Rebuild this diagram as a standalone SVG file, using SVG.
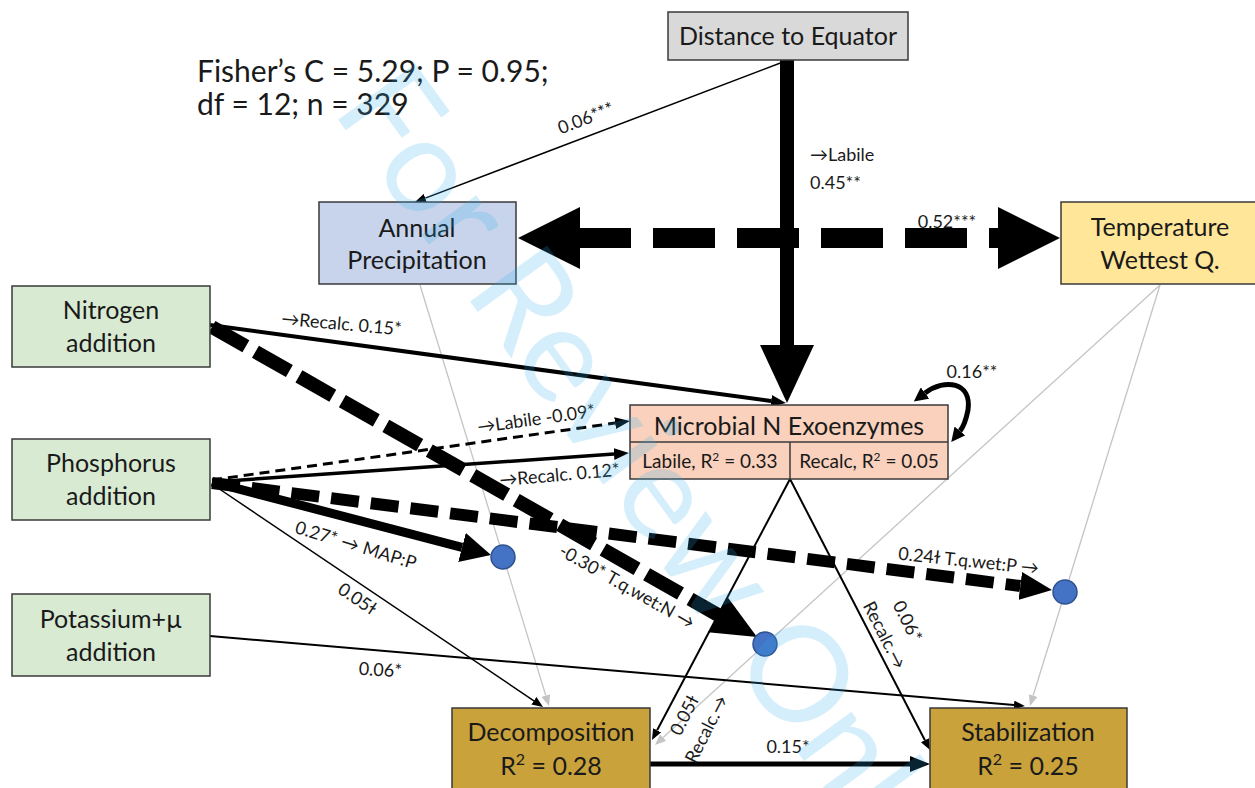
<svg xmlns="http://www.w3.org/2000/svg" width="1255" height="788" viewBox="0 0 1255 788">
<defs>
<style>
text{font-family:Lato,"Liberation Sans",sans-serif;fill:#1a1a1a}
.box{stroke:#3a3a3a;stroke-width:1.5}
.bt{font-size:25px;text-anchor:middle}
.lb{font-size:18px;text-anchor:middle}
.ln{fill:none;stroke:#000}
.gr{fill:none;stroke:#c4c4c4;stroke-width:1.3}
.dot{fill:#4472c4;stroke:#2f528f;stroke-width:1.5}
</style>
<marker id="hThin" markerUnits="userSpaceOnUse" markerWidth="11" markerHeight="9" refX="0" refY="4.5" orient="auto"><path d="M0,0 L11,4.5 L0,9 z" fill="#000"/></marker>
<marker id="hGrey" markerUnits="userSpaceOnUse" markerWidth="11" markerHeight="9" refX="0" refY="4.5" orient="auto"><path d="M0,0 L11,4.5 L0,9 z" fill="#c4c4c4"/></marker>
<marker id="hMed" markerUnits="userSpaceOnUse" markerWidth="15" markerHeight="12" refX="0" refY="6" orient="auto"><path d="M0,0 L15,6 L0,12 z" fill="#000"/></marker>
<marker id="hDS" markerUnits="userSpaceOnUse" markerWidth="20" markerHeight="16" refX="0" refY="8" orient="auto"><path d="M0,0 L20,8 L0,16 z" fill="#000"/></marker>
<marker id="hLoop" markerUnits="userSpaceOnUse" markerWidth="14" markerHeight="14" refX="0" refY="7" orient="auto-start-reverse"><path d="M0,0 L14,7 L0,14 z" fill="#000"/></marker>
<marker id="hBig" markerUnits="userSpaceOnUse" markerWidth="58" markerHeight="54" refX="0" refY="27" orient="auto"><path d="M0,0 L58,27 L0,54 z" fill="#000"/></marker>
<marker id="hHuge" markerUnits="userSpaceOnUse" markerWidth="62" markerHeight="62" refX="0" refY="31" orient="auto-start-reverse"><path d="M0,0 L62,31 L0,62 z" fill="#000"/></marker>
<marker id="hN" markerUnits="userSpaceOnUse" markerWidth="45" markerHeight="40" refX="0" refY="20" orient="auto"><path d="M0,0 L45,20 L0,40 z" fill="#000"/></marker>
<marker id="hP1" markerUnits="userSpaceOnUse" markerWidth="30" markerHeight="30" refX="0" refY="15" orient="auto"><path d="M0,0 L30,15 L0,30 z" fill="#000"/></marker>
<marker id="hP2" markerUnits="userSpaceOnUse" markerWidth="32" markerHeight="28" refX="0" refY="14" orient="auto"><path d="M0,0 L32,14 L0,28 z" fill="#000"/></marker>
</defs>
<rect width="1255" height="788" fill="#fff"/>

<text x="197" y="82" font-size="30">Fisher’s C = 5.29; P = 0.95;</text>
<text x="197" y="115" font-size="30">df = 12; n = 329</text>

<g id="connectors">
  <!-- grey paths -->
  <line class="gr" x1="420" y1="285" x2="545.8" y2="695.5" marker-end="url(#hGrey)"/>
  <line class="gr" x1="1160" y1="285" x2="1033.2" y2="695.5" marker-end="url(#hGrey)"/>
  <line class="gr" x1="1160" y1="285" x2="663.1" y2="737.6" marker-end="url(#hGrey)"/>
  <!-- black paths -->
  <line class="ln" stroke-width="1.5" x1="783" y1="62" x2="425.3" y2="198.1" marker-end="url(#hThin)"/>
  <line class="ln" stroke-width="14" x1="787" y1="60" x2="787" y2="345" marker-end="url(#hBig)"/>
  <line class="ln" stroke-width="20" stroke-dasharray="62 22" stroke-dashoffset="11" x1="580" y1="238" x2="998" y2="238" marker-start="url(#hHuge)" marker-end="url(#hHuge)"/>
  <line class="ln" stroke-width="4" x1="210" y1="325" x2="771.1" y2="401" marker-end="url(#hMed)"/>
  <line class="ln" stroke-width="14" stroke-dasharray="39 11" x1="212" y1="327" x2="717.9" y2="614.8" marker-end="url(#hN)"/>
  <line class="ln" stroke-width="3" stroke-dasharray="10 6" x1="212" y1="480" x2="615.1" y2="423.1" marker-end="url(#hMed)"/>
  <line class="ln" stroke-width="3.5" x1="212" y1="482" x2="614" y2="454" marker-end="url(#hMed)"/>
  <line class="ln" stroke-width="9" x1="212" y1="482" x2="462" y2="547.4" marker-end="url(#hP1)"/>
  <line class="ln" stroke-width="12" stroke-dasharray="28 12" x1="212" y1="483" x2="1020.3" y2="586" marker-end="url(#hP2)"/>
  <line class="ln" stroke-width="1.5" x1="212" y1="484" x2="533.9" y2="700.8" marker-end="url(#hThin)"/>
  <line class="ln" stroke-width="2" x1="210" y1="636" x2="1014" y2="705.1" marker-end="url(#hThin)"/>
  <line class="ln" stroke-width="2" x1="790" y1="479" x2="657.1" y2="730.3" marker-end="url(#hThin)"/>
  <line class="ln" stroke-width="2" x1="790" y1="479" x2="924.9" y2="740.2" marker-end="url(#hThin)"/>
  <line class="ln" stroke-width="5" x1="650" y1="764" x2="910" y2="764" marker-end="url(#hDS)"/>
  <path class="ln" stroke-width="5" d="M925,393 C945,378 972,382 968,410 C966,420 964,426 960,431" marker-start="url(#hLoop)" marker-end="url(#hLoop)"/>
  <!-- interaction points -->
  <circle class="dot" cx="503" cy="557" r="12"/>
  <circle class="dot" cx="765" cy="644" r="12"/>
  <circle class="dot" cx="1065" cy="592" r="12"/>
  <!-- labels -->
  <text class="lb" transform="translate(588,124) rotate(-21)">0.06***</text>
  <text x="810" y="161" font-size="18">→Labile</text>
  <text x="810" y="189" font-size="18">0.45**</text>
  <text class="lb" x="947" y="228" font-size="19">0.52***</text>
  <text class="lb" transform="translate(341,330) rotate(5)">→Recalc. 0.15*</text>
  <text class="lb" transform="translate(537,425) rotate(-8)">→Labile -0.09*</text>
  <text class="lb" transform="translate(560,481) rotate(-5)">→Recalc. 0.12*</text>
  <text class="lb" transform="translate(624,592) rotate(29.5)">-0.30* T.q.wet:N →</text>
  <text class="lb" transform="translate(354,551) rotate(17)">0.27* → MAP:P</text>
  <text class="lb" transform="translate(354,604) rotate(34)">0.05ɫ</text>
  <text class="lb" transform="translate(380,676) rotate(3)">0.06*</text>
  <text class="lb" transform="translate(968,567) rotate(6)">0.24ɫ T.q.wet:P →</text>
  <text class="lb" x="788" y="753">0.15*</text>
  <text class="lb" transform="translate(690,718) rotate(-63)">0.05ɫ</text>
  <text class="lb" transform="translate(712,732) rotate(-63)">Recalc.→</text>
  <text class="lb" transform="translate(902,624) rotate(63)">0.06*</text>
  <text class="lb" transform="translate(879,638) rotate(63)">Recalc.→</text>
  <text class="lb" x="972" y="378" font-size="21">0.16**</text>
</g>

<g id="dist">
  <rect class="box" x="668" y="12" width="240" height="48" fill="#d9d9d9"/>
  <text class="bt" x="788" y="45">Distance to Equator</text>
</g>
<g id="annual">
  <rect class="box" x="319" y="202" width="197" height="82" fill="#c7d4ec"/>
  <text class="bt" x="417" y="237">Annual</text>
  <text class="bt" x="417" y="269">Precipitation</text>
</g>
<g id="temp">
  <rect class="box" x="1061" y="202" width="198" height="82" fill="#ffe699"/>
  <text class="bt" x="1160" y="236">Temperature</text>
  <text class="bt" x="1160" y="269">Wettest Q.</text>
</g>
<g id="nitrogen">
  <rect class="box" x="12" y="286" width="198" height="81" fill="#d9ead3"/>
  <text class="bt" x="111" y="319">Nitrogen</text>
  <text class="bt" x="111" y="352">addition</text>
</g>
<g id="phosphorus">
  <rect class="box" x="12" y="439" width="198" height="81" fill="#d9ead3"/>
  <text class="bt" x="111" y="472">Phosphorus</text>
  <text class="bt" x="111" y="505">addition</text>
</g>
<g id="potassium">
  <rect class="box" x="12" y="594" width="198" height="82" fill="#d9ead3"/>
  <text class="bt" x="111" y="628">Potassium+µ</text>
  <text class="bt" x="111" y="661">addition</text>
</g>
<g id="microbial">
  <rect class="box" x="630" y="405" width="318" height="74" fill="#f9d1bc"/>
  <line class="box" x1="630" y1="442" x2="948" y2="442"/>
  <line class="box" x1="790" y1="442" x2="790" y2="479"/>
  <text class="bt" x="789" y="435">Microbial N Exoenzymes</text>
  <text x="710" y="468" font-size="19" text-anchor="middle">Labile, R<tspan font-size="12" dy="-7">2</tspan><tspan dy="7"> = 0.33</tspan></text>
  <text x="869" y="468" font-size="19" text-anchor="middle">Recalc, R<tspan font-size="12" dy="-7">2</tspan><tspan dy="7"> = 0.05</tspan></text>
</g>
<g id="decomposition">
  <rect class="box" x="452" y="708" width="198" height="82" fill="#c9a23c"/>
  <text class="bt" x="551" y="741">Decomposition</text>
  <text class="bt" x="551" y="775">R<tspan font-size="16" dy="-10">2</tspan><tspan dy="10"> = 0.28</tspan></text>
</g>
<g id="stabilization">
  <rect class="box" x="930" y="708" width="197" height="82" fill="#c9a23c"/>
  <text class="bt" x="1028" y="741">Stabilization</text>
  <text class="bt" x="1028" y="775">R<tspan font-size="16" dy="-10">2</tspan><tspan dy="10"> = 0.25</tspan></text>
</g>

<text transform="translate(331,110) rotate(54)" font-size="133" style="fill:#30b0f0" opacity="0.2">For Review Only</text>
</svg>
